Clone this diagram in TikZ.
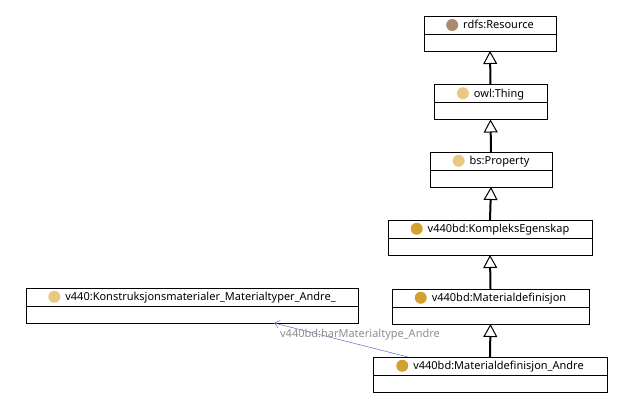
\documentclass[tikz,border=0pt]{standalone}
\usepackage{fontspec}
\setmainfont{Noto Sans}
\usetikzlibrary{arrows.meta,positioning}

\definecolor{resbrown}{HTML}{A88A6E}
\definecolor{lightgold}{HTML}{E6CA82}
\definecolor{darkgold}{HTML}{D2A22E}
\definecolor{propblue}{HTML}{5B6CCB}
\definecolor{labelgray}{HTML}{8E8E8E}

\newcommand{\classdot}[1]{\tikz[baseline=-3.8pt]\fill[#1] (0,0) circle (6pt);\hspace{5pt}}

\tikzset{
  head/.style={draw, line width=0.9pt, minimum height=18pt, inner sep=0pt, outer sep=0pt,
    font=\fontsize{11}{13}\selectfont},
  body/.style={draw, line width=0.9pt, minimum height=17pt, inner sep=0pt, outer sep=0pt},
  isa/.style={line width=2pt, -{Triangle[open,width=14pt,length=13pt,line width=1pt,fill=white]}},
  prop/.style={draw=propblue, line width=0.5pt, -{Straight Barb[length=5pt,width=8pt]}},
  proplabel/.style={text=labelgray, font=\fontsize{11}{13}\selectfont, inner sep=0pt}
}

\begin{document}
\begin{tikzpicture}[x=1pt,y=-1pt]
\useasboundingbox (0,0) rectangle (627,403);
% class boxes: title part, then empty part
\node[head, minimum width=132pt] (res) at (490,25) {\classdot{resbrown}rdfs:Resource};
\node[body, minimum width=132pt, below=0pt of res] (resbody) {};
\node[head, minimum width=113pt] (thing) at (490.5,93.5) {\classdot{lightgold}owl:Thing};
\node[body, minimum width=113pt, below=0pt of thing] (thingbody) {};
\node[head, minimum width=122pt] (property) at (491,161) {\classdot{lightgold}bs:Property};
\node[body, minimum width=122pt, below=0pt of property] (propertybody) {};
\node[head, minimum width=204pt] (kompleks) at (490,229) {\classdot{darkgold}v440bd:KompleksEgenskap};
\node[body, minimum width=204pt, below=0pt of kompleks] (kompleksbody) {};
\node[head, minimum width=197pt] (matdef) at (490.5,298) {\classdot{darkgold}v440bd:Materialdefinisjon};
\node[body, minimum width=197pt, below=0pt of matdef] (matdefbody) {};
\node[head, minimum width=234pt] (andre) at (490,366) {\classdot{darkgold}v440bd:Materialdefinisjon\_Andre};
\node[body, minimum width=234pt, below=0pt of andre] (andrebody) {};
\node[head, minimum width=332pt] (konstr) at (192,297) {\classdot{lightgold}v440:Konstruksjonsmaterialer\_Materialtyper\_Andre\_};
\node[body, minimum width=332pt, below=0pt of konstr] (konstrbody) {};

% subclass arrows
\draw[isa] (thing.north) -- (resbody.south);
\draw[isa] (property.north) -- (thingbody.south);
\draw[isa] (kompleks.north) -- (propertybody.south);
\draw[isa] (matdef.north) -- (kompleksbody.south);
\draw[isa] (andre.north) -- (matdefbody.south);

% object property
\draw[prop] ([xshift=35pt]andre.north west) -- ([xshift=82pt]konstrbody.south);
\node[proplabel] (harmat) at (360,335) {v440bd:harMaterialtype\_Andre};
\end{tikzpicture}
\end{document}
